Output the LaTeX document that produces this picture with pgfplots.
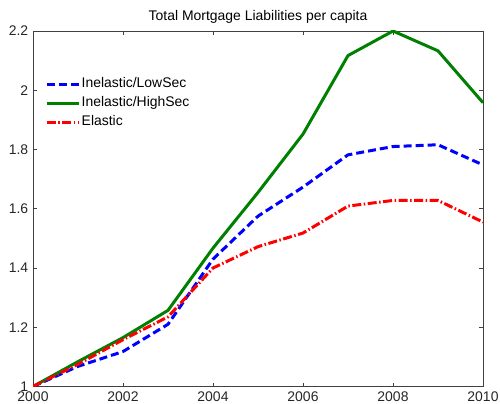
\documentclass[border=0pt]{standalone}
\usepackage{fontspec}
\setmainfont{Liberation Sans}
\usepackage{pgfplots}
\pgfplotsset{compat=1.18}

\definecolor{lowsec}{rgb}{0,0,1}
\definecolor{highsec}{rgb}{0,0.5,0}
\definecolor{elastic}{rgb}{1,0,0}

\begin{document}
\fontsize{14}{16}\selectfont
\begin{tikzpicture}
\path[use as bounding box] (-33bp,-17.5bp) rectangle (467bp,386.5bp);
\begin{axis}[
  at={(0,0)}, anchor=south west,
  scale only axis,
  width=450bp, height=355.5bp,
  xmin=2000, xmax=2010,
  ymin=1, ymax=2.2,
  xtick={2000,2002,2004,2006,2008,2010},
  ytick={1,1.2,1.4,1.6,1.8,2,2.2},
  yticklabels={1,1.2,1.4,1.6,1.8,2,2.2},
  xticklabel style={/pgf/number format/1000 sep={}},
  /pgf/number format/assume math mode=true,
  tick align=inside,
  major tick length=4bp,
  tick style={black!75, line width=0.6bp},
  axis line style={black!75, line width=0.8bp},
  ticklabel style={font=\fontsize{14}{16}\selectfont, text=black!85},
  title={Total Mortgage Liabilities per capita},
  title style={font=\fontsize{14}{16}\selectfont, yshift=-3bp},
  legend cell align=left,
  legend style={
    draw=none, fill=none,
    at={(12bp,312bp)}, anchor=north west,
    inner sep=0pt, row sep=0pt,
    font=\fontsize{14}{16}\selectfont,
    nodes={inner xsep=1.5bp, inner ysep=3bp, text height=10bp, text depth=3bp},
  },
  legend image code/.code={\draw[#1] (0bp,0bp) -- (32bp,0bp);},
]
% Inelastic housing supply, low securitization
\addplot[lowsec, line width=3bp, dash pattern=on 8bp off 4bp] coordinates {
  (2000,1.000) (2001,1.068) (2002,1.118) (2003,1.210) (2004,1.430)
  (2005,1.575) (2006,1.673) (2007,1.782) (2008,1.810) (2009,1.816) (2010,1.748)
};
\addlegendentry{Inelastic/LowSec}
% Inelastic housing supply, high securitization
\addplot[highsec, line width=3bp] coordinates {
  (2000,1.000) (2001,1.084) (2002,1.165) (2003,1.257) (2004,1.467)
  (2005,1.655) (2006,1.852) (2007,2.117) (2008,2.200) (2009,2.133) (2010,1.958)
};
\addlegendentry{Inelastic/HighSec}
% Elastic housing supply
\addplot[elastic, line width=3bp, dash pattern=on 9bp off 2.5bp on 1.5bp off 2.5bp] coordinates {
  (2000,1.000) (2001,1.075) (2002,1.158) (2003,1.235) (2004,1.400)
  (2005,1.472) (2006,1.518) (2007,1.609) (2008,1.628) (2009,1.628) (2010,1.555)
};
\addlegendentry{Elastic}
\end{axis}
\end{tikzpicture}
\end{document}
